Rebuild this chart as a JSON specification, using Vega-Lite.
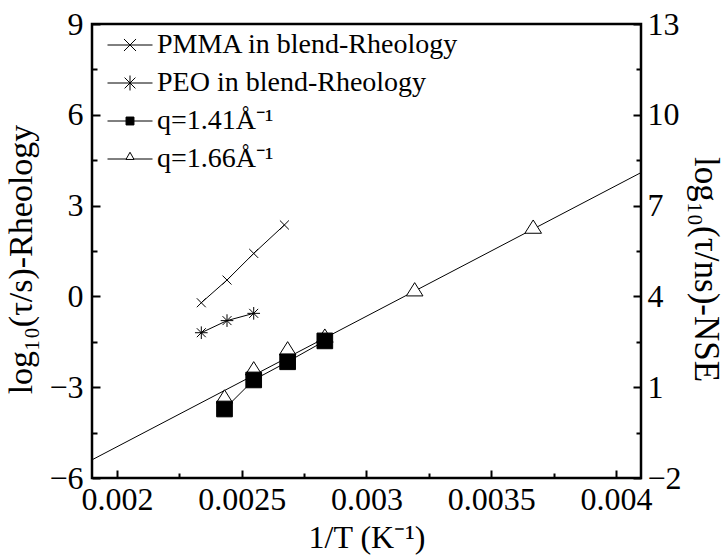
{
  "$schema": "https://vega.github.io/schema/vega-lite/v6.json",
  "autosize": "none",
  "width": 549,
  "height": 454,
  "padding": {"left": 92, "top": 24, "right": 87, "bottom": 81},
  "background": "white",
  "config": {
    "font": "Liberation Serif",
    "view": {"stroke": "black", "strokeWidth": 2.5},
    "axis": {
      "domain": false,
      "grid": false,
      "labelFont": "Liberation Serif",
      "titleFont": "Liberation Serif",
      "labelFontSize": 32,
      "titleFontSize": 32,
      "titleFontWeight": "normal",
      "labelColor": "black",
      "titleColor": "black",
      "tickColor": "black",
      "tickWidth": 2,
      "labelFlush": false,
      "labelOverlap": false
    },
    "legend": {
      "labelFont": "Liberation Serif",
      "labelFontSize": 28,
      "labelColor": "black",
      "labelLimit": 0
    }
  },
  "datasets": {
    "rheology": [
      {"series": "PMMA in blend-Rheology", "invT": 0.002338, "logtau": -0.21},
      {"series": "PMMA in blend-Rheology", "invT": 0.002441, "logtau": 0.54},
      {"series": "PMMA in blend-Rheology", "invT": 0.002548, "logtau": 1.42},
      {"series": "PMMA in blend-Rheology", "invT": 0.002671, "logtau": 2.36},
      {"series": "PEO in blend-Rheology", "invT": 0.002338, "logtau": -1.2},
      {"series": "PEO in blend-Rheology", "invT": 0.002441, "logtau": -0.8},
      {"series": "PEO in blend-Rheology", "invT": 0.002548, "logtau": -0.56}
    ],
    "nse": [
      {"series": "q=1.66Å⁻¹", "invT": 0.002431, "logtau": 0.64},
      {"series": "q=1.66Å⁻¹", "invT": 0.002548, "logtau": 1.57},
      {"series": "q=1.66Å⁻¹", "invT": 0.002684, "logtau": 2.23},
      {"series": "q=1.66Å⁻¹", "invT": 0.002833, "logtau": 2.65},
      {"series": "q=1.66Å⁻¹", "invT": 0.003193, "logtau": 4.18},
      {"series": "q=1.66Å⁻¹", "invT": 0.003668, "logtau": 6.25},
      {"series": "q=1.41Å⁻¹", "invT": 0.002431, "logtau": 0.28},
      {"series": "q=1.41Å⁻¹", "invT": 0.002548, "logtau": 1.24},
      {"series": "q=1.41Å⁻¹", "invT": 0.002684, "logtau": 1.84},
      {"series": "q=1.41Å⁻¹", "invT": 0.002833, "logtau": 2.53}
    ],
    "fit": [
      {"invT": 0.0019, "logtau": -1.4},
      {"invT": 0.0041, "logtau": 8.09}
    ]
  },
  "layer": [
    {
      "encoding": {
        "x": {
          "field": "invT", "type": "quantitative",
          "scale": {"domain": [0.0019, 0.0041], "nice": false, "zero": false},
          "axis": {
            "title": "1/T (K⁻¹)",
            "values": [0.002, 0.00225, 0.0025, 0.00275, 0.003, 0.00325, 0.0035, 0.00375, 0.004],
            "format": "~g",
            "labelExpr": "round(datum.value*10000) % 5 === 0 ? datum.label : ''",
            "tickSize": {"condition": {"test": "round(datum.value*10000) % 5 === 0", "value": -8}, "value": -5},
            "labelPadding": 14,
            "titlePadding": 4
          }
        },
        "y": {
          "field": "logtau", "type": "quantitative",
          "scale": {"domain": [-6, 9], "nice": false, "zero": false},
          "axis": {
            "title": "log₁₀(τ/s)-Rheology",
            "orient": "left",
            "values": [-6, -4.5, -3, -1.5, 0, 1.5, 3, 4.5, 6, 7.5, 9],
            "labelExpr": "datum.value % 3 === 0 ? datum.label : ''",
            "tickSize": {"condition": {"test": "datum.value % 3 === 0", "value": -8}, "value": -5},
            "labelPadding": 17,
            "titlePadding": 10,
            "titleFontSize": 34,
            "titleY": 235
          }
        }
      },
      "layer": [
        {
          "data": {"name": "rheology"},
          "mark": {"type": "line", "color": "black", "strokeWidth": 1},
          "encoding": {"detail": {"field": "series"}}
        },
        {
          "data": {"name": "rheology"},
          "transform": [{"filter": "datum.series === 'PMMA in blend-Rheology'"}],
          "mark": {"type": "point", "filled": false, "stroke": "black", "strokeWidth": 1, "size": 256, "opacity": 1,
                   "shape": "M-0.56,-0.56L0.56,0.56M-0.56,0.56L0.56,-0.56"}
        },
        {
          "data": {"name": "rheology"},
          "transform": [{"filter": "datum.series === 'PEO in blend-Rheology'"}],
          "mark": {"type": "point", "filled": false, "stroke": "black", "strokeWidth": 1, "size": 256, "opacity": 1,
                   "shape": "M-0.79,0H0.79M0,-0.79V0.79M-0.56,-0.56L0.56,0.56M-0.56,0.56L0.56,-0.56"}
        }
      ]
    },
    {
      "encoding": {
        "x": {"field": "invT", "type": "quantitative"},
        "y": {
          "field": "logtau", "type": "quantitative",
          "scale": {"domain": [-2, 13], "nice": false, "zero": false},
          "axis": {
            "title": "log₁₀(τ/ns)-NSE",
            "orient": "right",
            "values": [-2, -0.5, 1, 2.5, 4, 5.5, 7, 8.5, 10, 11.5, 13],
            "labelExpr": "(datum.value + 2) % 3 === 0 ? datum.label : ''",
            "tickSize": {"condition": {"test": "(datum.value + 2) % 3 === 0", "value": -8}, "value": -5},
            "labelPadding": 14,
            "titlePadding": 6,
            "titleFontSize": 35,
            "titleY": 245
          }
        }
      },
      "layer": [
        {
          "data": {"name": "fit"},
          "mark": {"type": "line", "color": "black", "strokeWidth": 1},
          "encoding": {}
        },
        {
          "data": {"name": "nse"},
          "transform": [{"filter": "datum.series === 'q=1.41Å⁻¹'"}],
          "mark": {"type": "line", "color": "black", "strokeWidth": 1},
          "encoding": {}
        },
        {
          "data": {"name": "nse"},
          "transform": [{"filter": "datum.series === 'q=1.66Å⁻¹'"}],
          "mark": {"type": "point", "filled": true, "fill": "white", "stroke": "black", "strokeWidth": 1, "size": 256, "opacity": 1,
                   "shape": "M0,-1.04L1.04,0.62L-1.04,0.62Z"}
        },
        {
          "data": {"name": "nse"},
          "transform": [{"filter": "datum.series === 'q=1.41Å⁻¹'"}],
          "mark": {"type": "point", "filled": true, "fill": "black", "stroke": "black", "strokeWidth": 1, "size": 256, "opacity": 1,
                   "shape": "M-0.98,-0.98H0.98V0.98H-0.98Z"}
        },
        {
          "data": {"name": "nse"},
          "mark": {"type": "point", "filled": true, "strokeWidth": 1, "size": 256, "opacity": 0},
          "encoding": {
            "shape": {
              "field": "series", "type": "nominal",
              "scale": {
                "domain": ["PMMA in blend-Rheology", "PEO in blend-Rheology", "q=1.41Å⁻¹", "q=1.66Å⁻¹"],
                "range": [
                  "M-2.5,0H2.5M-0.67,-0.67L0.67,0.67M-0.67,0.67L0.67,-0.67",
                  "M-2.5,0H2.5M0,-0.83V0.83M-0.6,-0.6L0.6,0.6M-0.6,0.6L0.6,-0.6",
                  "M-2.5,0H2.5M-0.44,-0.44H0.44V0.44H-0.44Z",
                  "M-2.5,0H-0.45M0.45,0H2.5M0,-0.75L0.45,0.05L-0.45,0.05Z"
                ]
              },
              "legend": {
                "title": null,
                "orient": "none",
                "legendX": 24,
                "legendY": 7,
                "padding": 0,
                "rowPadding": 10,
                "symbolSize": 324,
                "labelOffset": 13,
                "symbolOpacity": 1,
                "symbolStrokeWidth": 1
              }
            },
            "fill": {
              "field": "series", "type": "nominal",
              "scale": {"domain": ["PMMA in blend-Rheology", "PEO in blend-Rheology", "q=1.41Å⁻¹", "q=1.66Å⁻¹"], "range": ["transparent", "transparent", "black", "white"]}
            },
            "stroke": {
              "field": "series", "type": "nominal",
              "scale": {"domain": ["PMMA in blend-Rheology", "PEO in blend-Rheology", "q=1.41Å⁻¹", "q=1.66Å⁻¹"], "range": ["black", "black", "black", "black"]}
            }
          }
        }
      ]
    }
  ],
  "resolve": {"scale": {"y": "independent"}}
}
